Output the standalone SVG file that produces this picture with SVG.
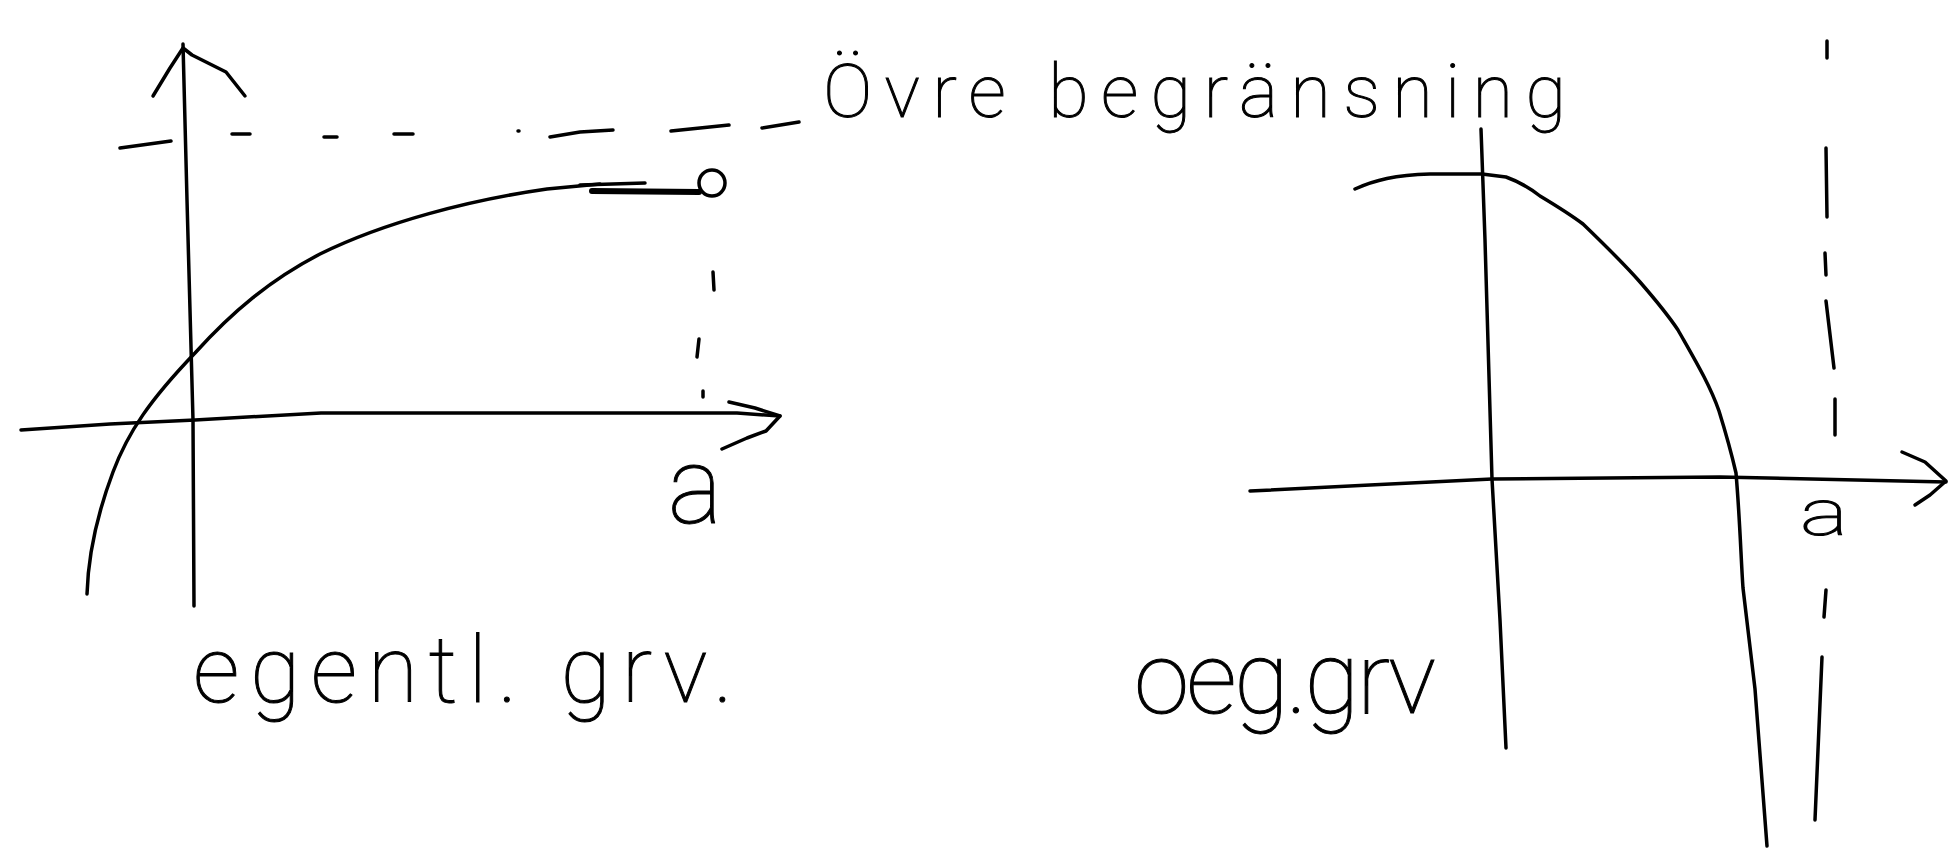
<svg xmlns="http://www.w3.org/2000/svg" width="1949" height="863" viewBox="0 0 1949 863">
<style>
.ln{fill:none;stroke:#000;stroke-width:3.5;stroke-linecap:round;stroke-linejoin:round}
.th{stroke-width:6}
.tx{font-family:"Roboto","Lato","Liberation Sans",sans-serif;font-weight:100;fill:#000;stroke:#000;stroke-width:1}
</style>
<rect width="1949" height="863" fill="#fff"/>
<g id="left-graph">
  <path class="ln" d="M183,44 L187,200 L193,420 L194,606"/>
  <path class="ln" d="M153,96 L170,68 L183,48 L192,55 L208,63 L226,72 L245,96"/>
  <path class="ln" d="M21,430 L110,424 L195,420 L321,413 L737,413 L780,416"/>
  <path class="ln" d="M729,402 L755,408 L780,416 L766,431 L747,438 L722,449"/>
  <path class="ln" d="M87,594 C88,560 95,520 113,472 C128,432 150,400 195,353 C232,312 270,280 320,254 C385,222 470,200 547,189 L600,184"/>
  <path class="ln th" d="M592,191 L699,192"/>
  <path class="ln" d="M580,185 L645,183"/>
  <circle class="ln" cx="712" cy="183" r="13"/>
  <g id="upper-bound-dashes">
    <path class="ln" d="M120,148 L171,141 M232,134 L250,134 M324,137 L337,137 M394,134 L413,134 M518,131 L519,131 M550,137 L580,132 L613,130 M671,131 L729,125 M762,128 L799,122"/>
  </g>
  <path class="ln" d="M713,272 L714,290 M699,339 L697,357 M703,391 L703,397"/>
  <text id="label-a-left" class="tx" x="668" y="523" font-size="108" textLength="54" lengthAdjust="spacingAndGlyphs">a</text>
</g>
<g id="right-graph">
  <path class="ln" d="M1481,129 L1485,240 L1492,479 L1500,620 L1506,748"/>
  <path class="ln" d="M1250,491 L1370,485 L1492,479 L1720,477 L1946,482"/>
  <path class="ln" d="M1902,452 L1925,462 L1946,481 L1930,495 L1915,505"/>
  <path class="ln" d="M1355,189 C1375,180 1395,175 1430,174 L1482,174 L1506,177 C1520,182 1530,188 1540,196 C1560,208 1575,218 1583,224 C1610,250 1625,265 1640,282 C1660,305 1670,318 1678,330 C1695,360 1710,385 1719,411 C1728,440 1733,460 1736,473 C1740,520 1741,560 1743,588 L1755,689 L1767,846"/>
  <g id="asymptote-dashes">
    <path class="ln" d="M1827,41 L1827,58 M1826,148 L1827,217 M1825,253 L1826,275 M1826,301 L1834,368 M1835,399 L1835,435 M1826,590 L1824,617 M1822,657 L1815,820"/>
  </g>
  <text id="label-a-right" class="tx" x="1800" y="535" font-size="64" textLength="48" lengthAdjust="spacingAndGlyphs">a</text>
</g>
<g id="labels">
  <text id="label-upper" class="tx" x="823" y="117" font-size="74" textLength="743" lengthAdjust="spacing">Övre begränsning</text>
  <text id="label-proper" class="tx" x="193" y="702" font-size="92" textLength="540" lengthAdjust="spacing">egentl. grv.</text>
  <text id="label-improper" class="tx" x="1134" y="713" font-size="100" textLength="302" lengthAdjust="spacing">oeg.grv</text>
</g>
</svg>
